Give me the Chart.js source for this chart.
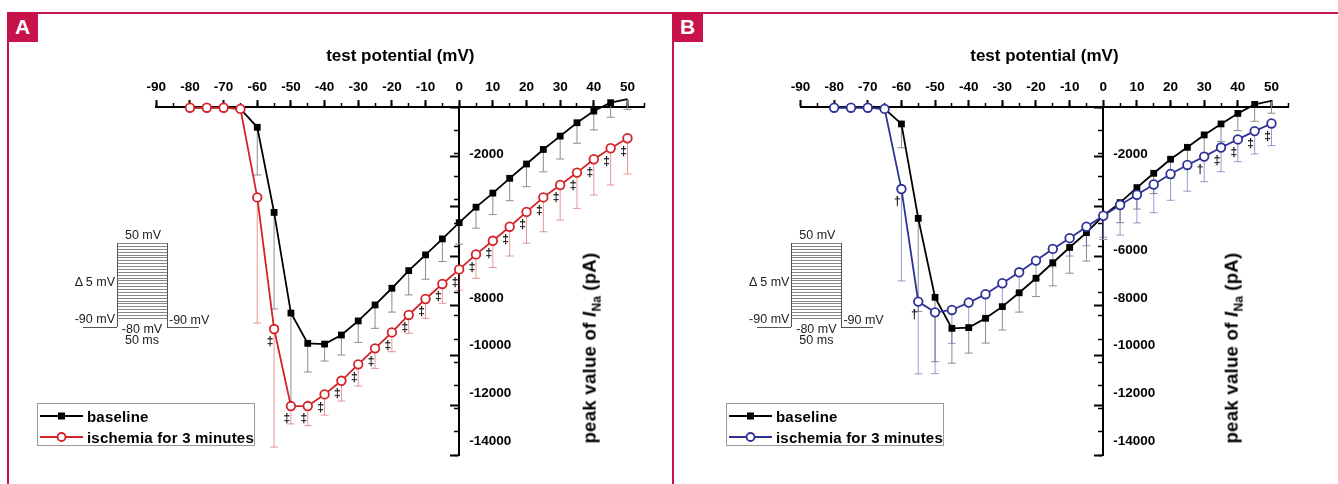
<!DOCTYPE html>
<html>
<head>
<meta charset="utf-8">
<script src="https://cdn.jsdelivr.net/npm/chart.js@4.4.1/dist/chart.umd.min.js"></script>
<style>
body{margin:0;background:#fff;width:1338px;height:484px;overflow:hidden;position:relative;font-family:"Liberation Sans",Arial,sans-serif;color:#000}
canvas{position:absolute;top:0}
#chartA{left:0}
#chartB{left:672px}
.frame{position:absolute;background:#c8124a}
.tag{position:absolute;top:12px;width:31px;height:30px;background:#c8124a;color:#fff;font-weight:bold;font-size:21px;line-height:30px;text-align:center}
.ytitle{position:absolute;top:348px;transform:translate(-50%,-50%) rotate(-90deg);white-space:nowrap;font-weight:bold;font-size:18.5px;letter-spacing:0.3px}
.ytitle sub{font-size:12px;letter-spacing:0}
.legend{position:absolute;top:403px;width:218px;height:43px;box-sizing:border-box;border:1px solid #9a9a9a;background:#fff;font-weight:bold;font-size:15px;letter-spacing:0.2px}
.legend .row{position:absolute;left:2px;height:20px;display:flex;align-items:center;white-space:nowrap}
.legend svg{margin-right:4px}
.inset{position:absolute;left:0;top:0;width:1px;height:1px}
.inset div{position:absolute}
.inset .t{font-size:12.5px;color:#222;white-space:nowrap;line-height:14px}
.stripes{left:117px;top:243px;width:50px;height:76px;background:repeating-linear-gradient(to bottom,#888 0,#888 1px,#fff 1px,#fff 2.88px)}
.vl{width:1px;height:84px;top:243px;background:#555}
.hl{height:1px;top:327px;background:#555}
</style>
</head>
<body>

<canvas id="chartA" width="670" height="484"></canvas>
<canvas id="chartB" width="666" height="484"></canvas>

<div class="frame" style="left:7px;top:12px;width:1331px;height:2px"></div>
<div class="frame" style="left:7px;top:12px;width:2px;height:472px"></div>
<div class="frame" style="left:672px;top:12px;width:2px;height:472px"></div>
<div class="tag" style="left:7px">A</div>
<div class="tag" style="left:672px">B</div>

<div class="ytitle" style="left:591px">peak value of <i>I</i><sub>Na</sub> (pA)</div>
<div class="ytitle" style="left:1233px">peak value of <i>I</i><sub>Na</sub> (pA)</div>

<div class="legend" style="left:37px">
  <div class="row" style="top:2px"><svg width="43" height="12"><line x1="0" y1="6" x2="43" y2="6" stroke="#000" stroke-width="2"/><rect x="18" y="2.5" width="7" height="7" fill="#000"/></svg>baseline</div>
  <div class="row" style="top:23px"><svg width="43" height="12"><line x1="0" y1="6" x2="43" y2="6" stroke="#d42328" stroke-width="2"/><circle cx="21.5" cy="6" r="4" fill="#fff" stroke="#d42328" stroke-width="1.8"/></svg>ischemia for 3 minutes</div>
</div>
<div class="legend" style="left:726px">
  <div class="row" style="top:2px"><svg width="43" height="12"><line x1="0" y1="6" x2="43" y2="6" stroke="#000" stroke-width="2"/><rect x="18" y="2.5" width="7" height="7" fill="#000"/></svg>baseline</div>
  <div class="row" style="top:23px"><svg width="43" height="12"><line x1="0" y1="6" x2="43" y2="6" stroke="#2d3396" stroke-width="2"/><circle cx="21.5" cy="6" r="4" fill="#fff" stroke="#2d3396" stroke-width="1.8"/></svg>ischemia for 3 minutes</div>
</div>

<div class="inset" style="left:0">
  <div class="stripes"></div>
  <div class="vl" style="left:116.5px"></div>
  <div class="vl" style="left:167px"></div>
  <div class="hl" style="left:83px;width:34px"></div>
  <div class="hl" style="left:167px;width:32px"></div>
  <div class="t" style="left:143px;top:235px;transform:translate(-50%,-50%)">50 mV</div>
  <div class="t" style="left:115px;top:282px;transform:translate(-100%,-50%)">Δ 5 mV</div>
  <div class="t" style="left:115px;top:319px;transform:translate(-100%,-50%)">-90 mV</div>
  <div class="t" style="left:169px;top:320px;transform:translateY(-50%)">-90 mV</div>
  <div class="t" style="left:142px;top:329px;transform:translate(-50%,-50%)">-80 mV</div>
  <div class="t" style="left:142px;top:340px;transform:translate(-50%,-50%)">50 ms</div>
</div>
<div class="inset" style="left:674.4px">
  <div class="stripes"></div>
  <div class="vl" style="left:116.5px"></div>
  <div class="vl" style="left:167px"></div>
  <div class="hl" style="left:83px;width:34px"></div>
  <div class="hl" style="left:167px;width:32px"></div>
  <div class="t" style="left:143px;top:235px;transform:translate(-50%,-50%)">50 mV</div>
  <div class="t" style="left:115px;top:282px;transform:translate(-100%,-50%)">Δ 5 mV</div>
  <div class="t" style="left:115px;top:319px;transform:translate(-100%,-50%)">-90 mV</div>
  <div class="t" style="left:169px;top:320px;transform:translateY(-50%)">-90 mV</div>
  <div class="t" style="left:142px;top:329px;transform:translate(-50%,-50%)">-80 mV</div>
  <div class="t" style="left:142px;top:340px;transform:translate(-50%,-50%)">50 ms</div>
</div>

<script>
// test potentials (mV)
var voltages = [-80,-75,-70,-65,-60,-55,-50,-45,-40,-35,-30,-25,-20,-15,-10,-5,0,5,10,15,20,25,30,35,40,45,50];

// panel A, peak I_Na (pA) and one-sided error
var baseA    = [-30,-30,-30,-80,-850,-4420,-8640,-9910,-9940,-9560,-8970,-8300,-7600,-6860,-6200,-5530,-4850,-4200,-3610,-2990,-2390,-1780,-1220,-660,-170,180,330];
var baseErrA = [0,0,0,60,2000,4050,3800,1200,710,840,900,980,1000,1020,1020,950,900,880,900,940,950,940,960,860,790,610,430];
var ischA    = [-30,-30,-30,-80,-3790,-9310,-12540,-12540,-12050,-11480,-10790,-10120,-9450,-8720,-8050,-7420,-6810,-6180,-5610,-5020,-4400,-3790,-3270,-2750,-2190,-1730,-1310];
var ischErrA = [0,0,0,60,5270,4950,750,820,870,850,910,840,810,770,810,810,870,1000,1120,1230,1310,1440,1470,1500,1500,1540,1500];
var marksA   = ["","","","","","‡","‡","‡","‡","‡","‡","‡","‡","‡","‡","‡","‡","‡","‡","‡","‡","‡","‡","‡","‡","‡","‡"];

// panel B
var baseB    = [-30,-30,-30,-80,-710,-4670,-7980,-9280,-9250,-8860,-8370,-7790,-7180,-6530,-5890,-5270,-4560,-4010,-3380,-2780,-2190,-1690,-1170,-710,-270,110,260];
var baseErrB = [0,0,0,60,1000,3900,2700,1460,1070,1040,980,810,770,970,1080,1190,1000,840,900,850,800,780,760,740,720,710,520];
var ischB    = [-30,-30,-30,-80,-3440,-8160,-8610,-8510,-8200,-7850,-7390,-6930,-6440,-5950,-5500,-5020,-4560,-4110,-3680,-3250,-2810,-2430,-2080,-1700,-1360,-1010,-690];
var ischErrB = [0,0,0,60,3850,3030,2570,1400,1100,1000,900,850,800,750,750,800,900,1260,1180,1180,1100,1100,1050,1010,930,960,930];
var marksB   = ["","","","","†","†","","","","","","","","","","","","","","","","","†","‡","‡","‡","‡"];

// y tick labels printed on each panel
var yLabelsA = [-2000,-8000,-10000,-12000,-14000];
var yLabelsB = [-2000,-6000,-8000,-10000,-12000,-14000];

var FONT = '"Liberation Sans", Arial, sans-serif';

function pts(ys){
  return voltages.map(function(v,i){ return {x:v, y:ys[i]}; });
}

// error bars, drawn under the lines
var errorBars = {
  id:'errorBars',
  beforeDatasetsDraw: function(chart){
    var ctx = chart.ctx, x = chart.scales.x, y = chart.scales.y;
    chart.data.datasets.forEach(function(ds){
      ctx.save();
      ctx.strokeStyle = ds.errColor;
      ctx.lineWidth = 1;
      ds.data.forEach(function(p,i){
        var e = ds.errors[i];
        if(!e) return;
        var px = x.getPixelForValue(p.x), y1 = y.getPixelForValue(p.y), y2 = y.getPixelForValue(p.y - e);
        ctx.beginPath();
        ctx.moveTo(px,y1); ctx.lineTo(px,y2);
        ctx.moveTo(px-4,y2); ctx.lineTo(px+4,y2);
        ctx.stroke();
      });
      ctx.restore();
    });
  }
};

// significance marks next to the ischemia points
var sigMarks = {
  id:'sigMarks',
  afterDatasetsDraw: function(chart){
    var ctx = chart.ctx, x = chart.scales.x, y = chart.scales.y;
    chart.data.datasets.forEach(function(ds){
      if(!ds.marks) return;
      ctx.save();
      ctx.fillStyle = '#111';
      ctx.font = 'bold 12px ' + FONT;
      ctx.textAlign = 'center';
      ctx.textBaseline = 'middle';
      ds.data.forEach(function(p,i){
        if(!ds.marks[i]) return;
        ctx.fillText(ds.marks[i], x.getPixelForValue(p.x) - 4, y.getPixelForValue(p.y) + 13);
      });
      ctx.restore();
    });
  }
};

// y tick labels sit to the right of the y axis
var yTickText = {
  id:'yTickText',
  afterDraw: function(chart, args, opts){
    var ctx = chart.ctx, x = chart.scales.x, y = chart.scales.y;
    ctx.save();
    ctx.fillStyle = '#000';
    ctx.font = 'bold 13.5px ' + FONT;
    ctx.textAlign = 'left';
    ctx.textBaseline = 'middle';
    opts.values.forEach(function(v){
      ctx.fillText(String(v), x.getPixelForValue(0) + 10, y.getPixelForValue(v));
    });
    ctx.restore();
  }
};

function makeChart(id, pad, ischColor, ischErrColor, base, baseErr, isch, ischErr, marks, yLabels){
  var tickFont = {family:FONT, size:13.5, weight:'bold'};
  return new Chart(document.getElementById(id).getContext('2d'), {
    type:'line',
    data:{
      datasets:[
        {
          label:'baseline', data:pts(base), errors:baseErr, errColor:'#8c8c8c',
          borderColor:'#000', borderWidth:1.8, pointStyle:'rect', pointRadius:4.8,
          pointBackgroundColor:'#000', pointBorderColor:'#000', pointBorderWidth:0,
          tension:0, clip:false, order:2, xAxisID:'x', yAxisID:'y'
        },
        {
          label:'ischemia for 3 minutes', data:pts(isch), errors:ischErr, errColor:ischErrColor, marks:marks,
          borderColor:ischColor, borderWidth:1.8, pointStyle:'circle', pointRadius:4.3,
          pointBackgroundColor:'#fff', pointBorderColor:ischColor, pointBorderWidth:1.8,
          tension:0, clip:false, order:1, xAxisID:'x', yAxisID:'y'
        }
      ]
    },
    options:{
      responsive:false,
      animation:false,
      layout:{padding:pad},
      plugins:{
        legend:{display:false},
        tooltip:{enabled:false},
        yTickText:{values:yLabels}
      },
      scales:{
        x:{
          type:'linear', position:'top', min:-90, max:55,
          ticks:{stepSize:10, includeBounds:false, autoSkip:false, maxRotation:0, padding:5, color:'#000', font:tickFont},
          grid:{drawOnChartArea:false, tickLength:7, tickColor:'#000', tickWidth:2},
          border:{color:'#000', width:2},
          title:{display:true, text:'test potential (mV)', color:'#000', font:{family:FONT, size:17, weight:'bold'}, padding:{top:26, bottom:0}},
          afterFit:function(s){ s.height = 87; }
        },
        xm:{
          type:'linear', axis:'x', position:{y:0}, min:-90, max:55,
          ticks:{display:false, stepSize:5, includeBounds:false},
          grid:{drawOnChartArea:false, tickLength:-4, tickColor:'#000', tickWidth:1.5},
          border:{display:false}
        },
        y:{
          type:'linear', position:{x:0}, min:-14600, max:0,
          ticks:{display:false, stepSize:2000, includeBounds:false},
          grid:{drawOnChartArea:false, tickLength:8, tickColor:'#000', tickWidth:2},
          border:{color:'#000', width:2}
        },
        ym:{
          type:'linear', axis:'y', position:{x:0}, min:-14600, max:0,
          ticks:{display:false, stepSize:1000, includeBounds:false},
          grid:{drawOnChartArea:false, tickLength:5, tickColor:'#000', tickWidth:1.5},
          border:{display:false}
        }
      }
    },
    plugins:[errorBars, sigMarks, yTickText]
  });
}

var chartA = makeChart('chartA', {left:156.3, right:25.7, top:20, bottom:28.8},
  '#d42328', 'rgba(205,70,70,0.55)', baseA, baseErrA, ischA, ischErrA, marksA, yLabelsA);
var chartB = makeChart('chartB', {left:128.5, right:49.7, top:20, bottom:28.8},
  '#2d3396', 'rgba(70,75,165,0.55)', baseB, baseErrB, ischB, ischErrB, marksB, yLabelsB);
</script>
</body>
</html>
